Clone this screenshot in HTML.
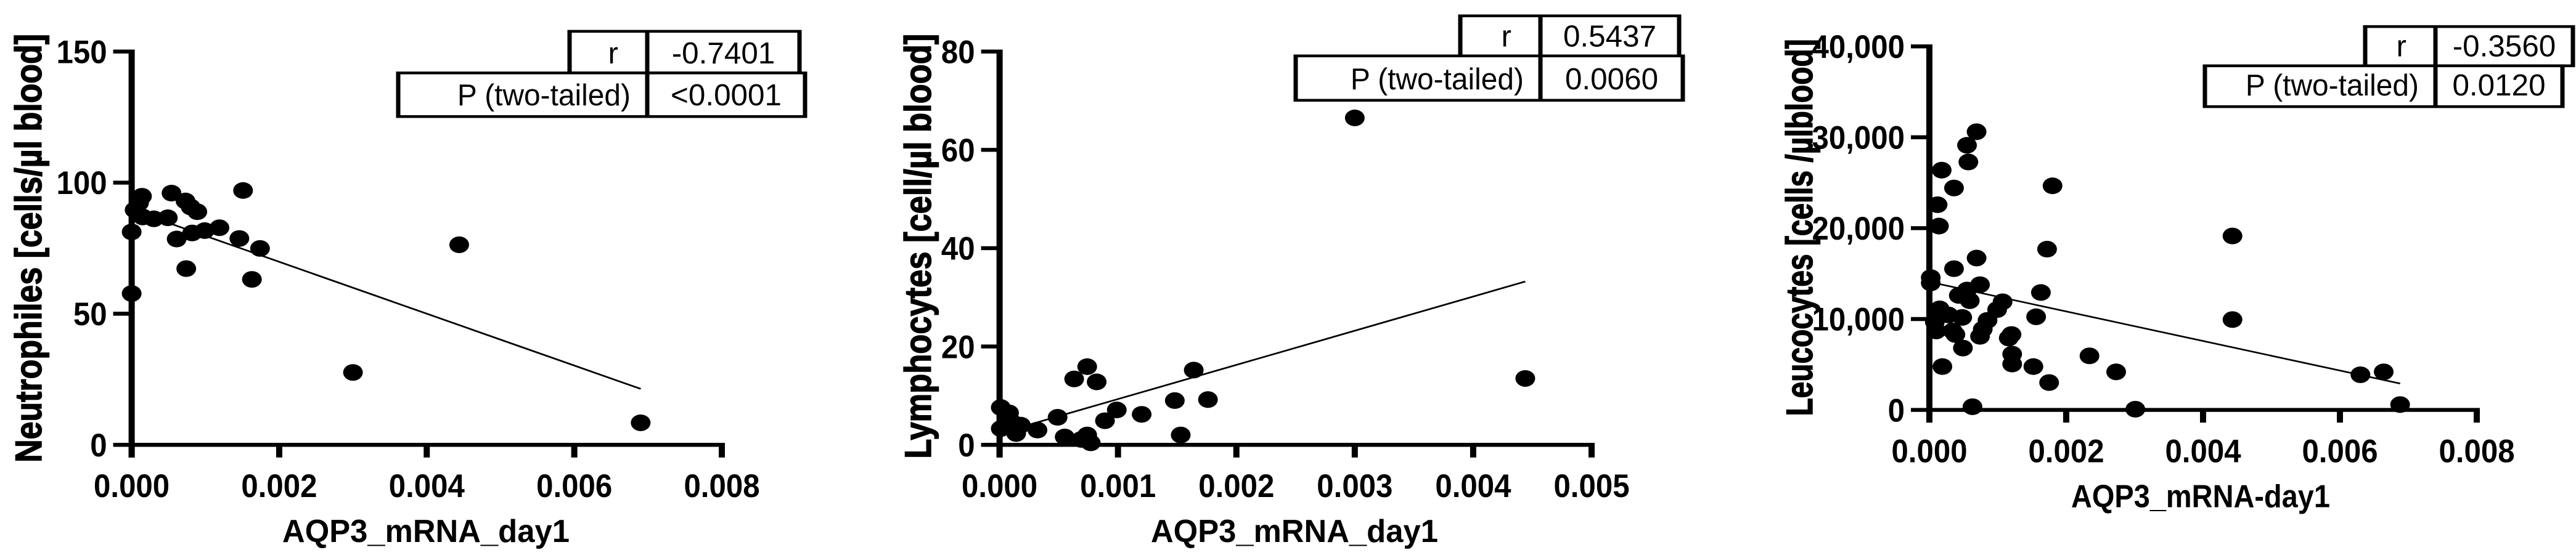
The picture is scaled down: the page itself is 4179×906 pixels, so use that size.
<!DOCTYPE html>
<html><head><meta charset="utf-8">
<style>html,body{margin:0;padding:0;background:#fff;overflow:hidden;}svg{display:block;}</style>
</head><body>
<svg id="fig" xmlns="http://www.w3.org/2000/svg" width="4179" height="906" viewBox="0 0 4179 906"><g id="root" transform="scale(1,0.6437)"></g></svg>
<script>
// Chart 1: Neutrophiles
const c1X = [0,0,0.00004,0.0001,0.00014,0.00015,0.0003,0.00049,0.00054,0.00061,0.00073,0.00074,0.0008,0.00089,0.00082,0.00099,0.00119,0.00151,0.00146,0.00163,0.00174,0.003,0.00444,0.0069];
const c1Y = [57.7,81.2,89.6,92.3,94.8,86.9,86.2,86.6,96,78.5,93,67.2,90.7,88.9,80.8,81.7,82.8,97,78.7,63.1,74.9,27.6,76.3,8.4];
const c1XTicks = [0,0.002,0.004,0.006,0.008];
const c1XTickLabels = ["0.000","0.002","0.004","0.006","0.008"];
const c1YTicks = [0,50,100,150];
const c1YTickLabels = ["0","50","100","150"];
const c1Stats = ["-0.7401","<0.0001"];
// Chart 2: Lymphocytes
const c2X = [0.00001,0.00001,0.00008,0.0001,0.00014,0.00018,0.00032,0.00049,0.00055,0.00063,0.00069,0.00074,0.00074,0.00077,0.00082,0.00089,0.00099,0.0012,0.00148,0.00153,0.00164,0.00176,0.003,0.00444];
const c2Y = [7.6,3.3,6.5,4.7,2.3,4.0,3.0,5.6,1.6,13.4,1.1,15.9,2.0,0.4,12.8,4.9,7.1,6.2,9.0,2.0,15.2,9.2,66.5,13.5];
const c2XTicks = [0,0.001,0.002,0.003,0.004,0.005];
const c2XTickLabels = ["0.000","0.001","0.002","0.003","0.004","0.005"];
const c2YTicks = [0,20,40,60,80];
const c2YTickLabels = ["0","20","40","60","80"];
const c2Stats = ["0.5437","0.0060"];
// Chart 3: Leucocytes
const c3X = [0.00002,0.00002,0.00012,0.00014,0.00018,0.00008,0.0001,0.00015,0.00019,0.00028,0.00036,0.00036,0.00034,0.00038,0.00043,0.00048,0.00049,0.00055,0.00055,0.00057,0.00059,0.00063,0.00069,0.00069,0.00074,0.00074,0.00078,0.00085,0.00099,0.00107,0.00116,0.0012,0.00121,0.00121,0.00152,0.00156,0.00163,0.00172,0.00175,0.0018,0.00234,0.00273,0.00301,0.00443,0.00443,0.0063,0.00664,0.00688];
const c3Y = [14560,13970,22580,20230,26380,9670,8690,11120,4770,10450,24420,15540,8690,8300,12600,10180,6810,13190,29120,27280,12020,350,30610,16710,13780,8100,8880,9860,11040,11900,7910,8300,6140,5050,4770,10250,12920,17690,3010,24660,5950,4190,80,19140,9940,3870,4190,590];
const c3XTicks = [0,0.002,0.004,0.006,0.008];
const c3XTickLabels = ["0.000","0.002","0.004","0.006","0.008"];
const c3YTicks = [0,10000,20000,30000,40000];
const c3YTickLabels = ["0","10,000","20,000","30,000","40,000"];
const c3Stats = ["-0.3560","0.0120"];

const NS = "http://www.w3.org/2000/svg";
const root = document.getElementById('root');
function mk(tag, attrs, parent){
  const e = document.createElementNS(NS, tag);
  for (const k in attrs) e.setAttribute(k, attrs[k]);
  (parent||root).appendChild(e);
  return e;
}
function txt(parent, x, y, s, size, weight, anchor, sx){
  const g = mk('g', {transform:`translate(${x},${y}) scale(${sx},1)`}, parent);
  const t = mk('text', {x:0, y:0, 'font-family':'Liberation Sans, Arial, sans-serif', 'font-size':size, 'font-weight':weight, 'text-anchor':anchor, fill:'#000'}, g);
  t.textContent = s;
  return t;
}
function regress(xs, ys){
  const n = xs.length; let mx=0,my=0;
  for (let i=0;i<n;i++){mx+=xs[i];my+=ys[i];}
  mx/=n; my/=n; let sxy=0,sxx=0;
  for (let i=0;i<n;i++){sxy+=(xs[i]-mx)*(ys[i]-my);sxx+=(xs[i]-mx)**2;}
  const b = sxy/sxx; return [my-b*mx, b];
}
function chart(cfg){
  const g = mk('g', {});
  
  
  const sx = v => cfg.ox + v / cfg.xMax * (cfg.xEnd - cfg.ox);
  const sy = v => cfg.oy - v / cfg.yMax * (cfg.oy - cfg.yTop);
  const ax = mk('g', {stroke:'#000','stroke-width':10,fill:'none'}, g);
  
  
  mk('line', {x1:cfg.ox, y1:sy(cfg.yMax)-5, x2:cfg.ox, y2:cfg.oy+32}, ax);
  mk('line', {x1:cfg.ox-5, y1:cfg.oy, x2:sx(cfg.xMax)+5, y2:cfg.oy}, ax);
  cfg.yTicks.forEach((v,i)=>{
    mk('line', {x1:cfg.ox-30, y1:sy(v), x2:cfg.ox, y2:sy(v)}, ax);
    const t = txt(g, cfg.ox-40, sy(v)+29, cfg.yLabels[i], 82, 'bold', 'end', 0.6);
    
    
  });
  cfg.xTicks.forEach((v,i)=>{
    mk('line', {x1:sx(v), y1:cfg.oy, x2:sx(v), y2:cfg.oy+32}, ax);
    const t = txt(g, sx(v), cfg.oy+132, cfg.xLabels[i], 82, 'bold', 'middle', 0.6);
    
    
  });
  const xt = mk('text', {x:cfg.xtX, y:cfg.oy+245, 'font-family':'Liberation Sans, Arial, sans-serif','font-size':80,'font-weight':'bold','text-anchor':'middle', textLength:cfg.xtW, lengthAdjust:'spacingAndGlyphs'}, g);
  xt.textContent = cfg.xTitle;
  
  
  const yt = mk('text', {x:0, y:0, transform:`translate(${cfg.ytX},${cfg.ytY}) rotate(-90)`, 'font-family':'Liberation Sans, Arial, sans-serif','font-size':60,'font-weight':'bold','text-anchor':'middle', stroke:'#000','stroke-width':1.5, textLength:cfg.ytW, lengthAdjust:'spacingAndGlyphs'}, g);
  yt.textContent = cfg.yTitle;
  
  
  const [a,b] = regress(cfg.xs, cfg.ys);
  const x0 = Math.min(...cfg.xs), x1 = Math.max(...cfg.xs);
  const ln = mk('line', {x1:sx(x0), y1:sy(a+b*x0), x2:sx(x1), y2:sy(a+b*x1), stroke:'#000','stroke-width':4}, g);
  
  
  cfg.xs.forEach((v,i)=>{
    const p = mk('ellipse', {cx:sx(v), cy:sy(cfg.ys[i]), rx:16, ry:21, fill:'#000'}, g);
    
    
  });
  const T = cfg.table;
  const tb = mk('g', {}, g);
  
  
  const bs = {fill:'#fff', stroke:'#000', 'stroke-width':7};
  mk('rect', Object.assign({x:T.rL, y:T.y0, width:T.rR-T.rL, height:T.y1-T.y0}, bs), tb);
  mk('rect', Object.assign({x:T.pL, y:T.y1, width:T.pR-T.pL, height:T.y2-T.y1}, bs), tb);
  mk('line', {x1:T.d, y1:T.y0, x2:T.d, y2:T.y2, stroke:'#000','stroke-width':7}, tb);
  txt(tb, T.d-47, T.y1-24, 'r', 76, 'normal', 'end', 0.65);
  txt(tb, T.d-27, T.y2-28, 'P (two-tailed)', 76, 'normal', 'end', 0.63);
  txt(tb, (T.d+T.rR)/2, T.y1-24, cfg.stats[0], 76, 'normal', 'middle', 0.65);
  txt(tb, (T.d+T.pR)/2, T.y2-28, cfg.stats[1], 76, 'normal', 'middle', 0.65);
}
chart({name:'neutrophiles-chart', xs:c1X, ys:c1Y, ox:213.6, oy:1122, xMax:0.008, xEnd:1171, yMax:150, yTop:130,
  xTicks:c1XTicks, xLabels:c1XTickLabels, yTicks:c1YTicks, yLabels:c1YTickLabels,
  xTitle:'AQP3_mRNA_day1', xtX:691, xtW:466, yTitle:'Neutrophiles  [cells/µl blood]', ytX:67, ytY:626, ytW:1081,
  stats:c1Stats, table:{rL:924, rR:1297, pL:646, pR:1306, d:1050, y0:79, y1:184, y2:294}});
chart({name:'lymphocytes-chart', xs:c2X, ys:c2Y, ox:1621.6, oy:1122, xMax:0.005, xEnd:2582, yMax:80, yTop:130,
  xTicks:c2XTicks, xLabels:c2XTickLabels, yTicks:c2YTicks, yLabels:c2YTickLabels,
  xTitle:'AQP3_mRNA_day1', xtX:2100, xtW:466, yTitle:'Lymphocytes  [cell/µl blood]', ytX:1510, ytY:621, ytW:1072,
  stats:c2Stats, table:{rL:2369, rR:2724, pL:2102, pR:2730, d:2499, y0:40, y1:141, y2:253}});
chart({name:'leucocytes-chart', xs:c3X, ys:c3Y, ox:3130, oy:1034, xMax:0.008, xEnd:4018, yMax:40000, yTop:117,
  xTicks:c3XTicks, xLabels:c3XTickLabels, yTicks:c3YTicks, yLabels:c3YTickLabels,
  xTitle:'AQP3_mRNA-day1', xtX:3570, xtW:420, yTitle:'Leucocytes  [cells /µlblood]', ytX:2940, ytY:574, ytW:951,
  stats:c3Stats, table:{rL:3837, rR:4174, pL:3577, pR:4157, d:3951, y0:67, y1:166, y2:269}});
</script>
</body></html>
